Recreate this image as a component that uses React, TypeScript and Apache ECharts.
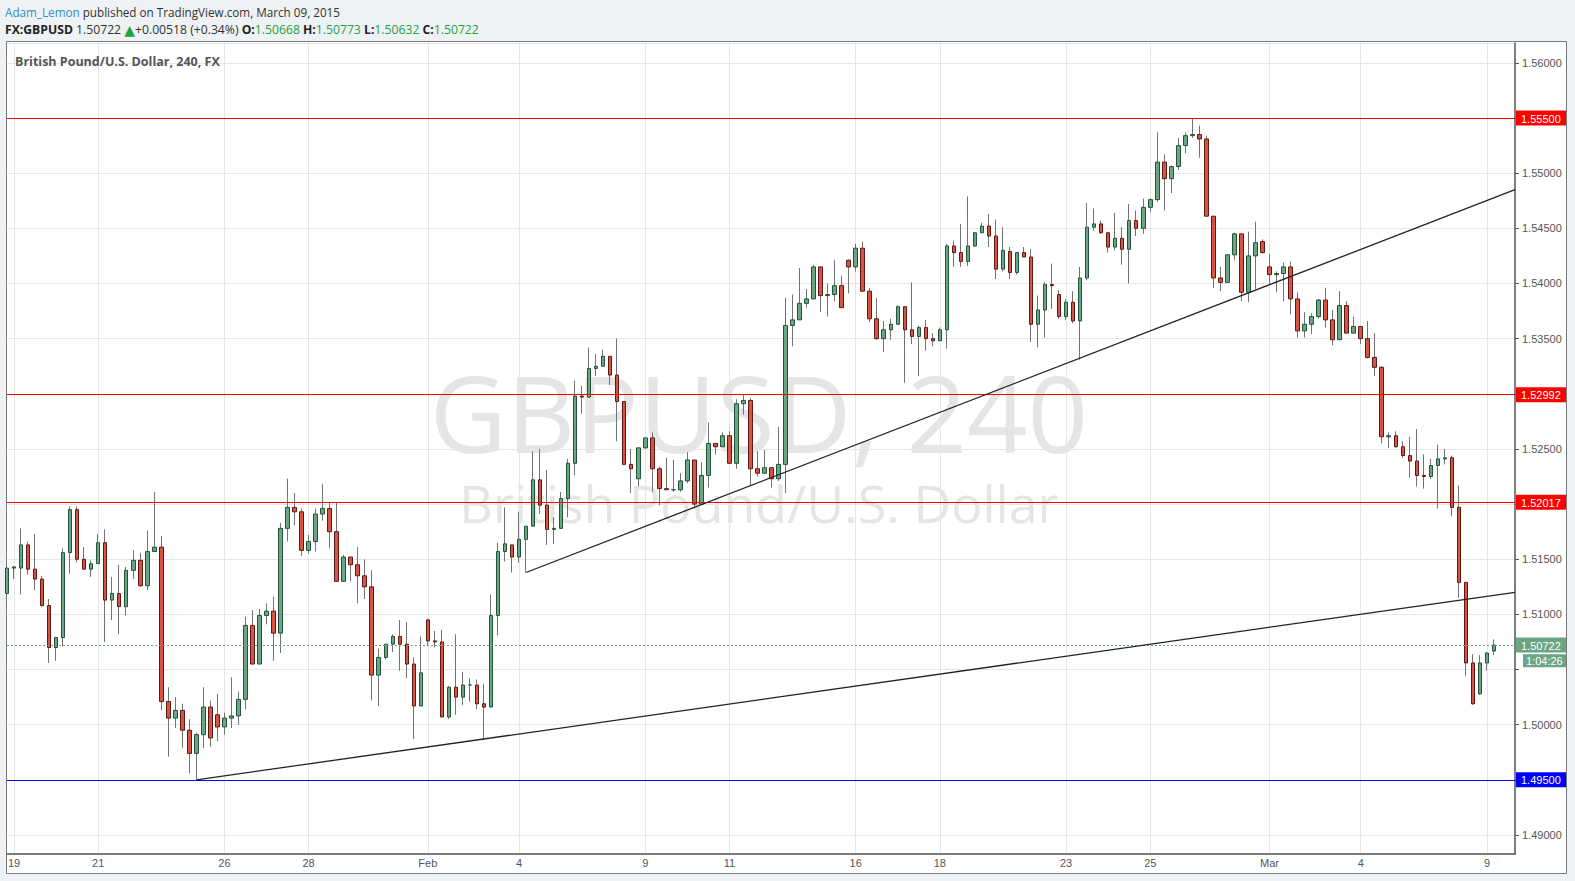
import React, { useEffect, useRef } from 'react';
import * as echarts from 'echarts';

// ---- sessions / categories (FX 4h candles, session starts 22:00 previous day) ----
const sessionDays = [
  '2015-01-19', '2015-01-20', '2015-01-21', '2015-01-22', '2015-01-23',
  '2015-01-26', '2015-01-27', '2015-01-28', '2015-01-29', '2015-01-30',
  '2015-02-02', '2015-02-03', '2015-02-04', '2015-02-05', '2015-02-06',
  '2015-02-09', '2015-02-10', '2015-02-11', '2015-02-12', '2015-02-13',
  '2015-02-16', '2015-02-17', '2015-02-18', '2015-02-19', '2015-02-20',
  '2015-02-23', '2015-02-24', '2015-02-25', '2015-02-26', '2015-02-27',
  '2015-03-02', '2015-03-03', '2015-03-04', '2015-03-05', '2015-03-06',
  '2015-03-09',
];
const slotHours = ['22:00', '02:00', '06:00', '10:00', '14:00', '18:00'];

// tick labels: [candle index, label]
const axisDayLabels: [number, string][] = [
  [1, '19'], [13, '21'], [31, '26'], [43, '28'], [60, 'Feb'], [73, '4'],
  [91, '9'], [103, '11'], [121, '16'], [133, '18'], [151, '23'], [163, '25'],
  [180, 'Mar'], [193, '4'], [211, '9'],
];

// ---- OHLC per week: [open, high, low, close] ----
const week1 = [
  [1.5119, 1.5147, 1.5107, 1.5142], [1.5142, 1.5144, 1.5132, 1.5143],
  [1.5142, 1.5178, 1.5118, 1.5163], [1.5163, 1.5166, 1.5136, 1.5141],
  [1.5141, 1.5173, 1.5122, 1.5132], [1.5132, 1.5135, 1.5107, 1.5108],
  [1.5108, 1.5114, 1.5056, 1.5070], [1.5070, 1.5079, 1.5058, 1.5079],
  [1.5079, 1.5160, 1.5071, 1.5156], [1.5156, 1.5198, 1.5137, 1.5195],
  [1.5195, 1.5198, 1.5147, 1.5150], [1.5150, 1.5161, 1.5141, 1.5141],
  [1.5141, 1.5149, 1.5134, 1.5146], [1.5146, 1.5173, 1.5146, 1.5165],
  [1.5165, 1.5177, 1.5075, 1.5113], [1.5113, 1.5134, 1.5095, 1.5119],
  [1.5119, 1.5145, 1.5082, 1.5107], [1.5107, 1.5143, 1.5099, 1.5140],
  [1.5140, 1.5158, 1.5132, 1.5149], [1.5149, 1.5156, 1.5125, 1.5126],
  [1.5126, 1.5176, 1.5122, 1.5157], [1.5157, 1.5211, 1.5157, 1.5161],
  [1.5161, 1.5171, 1.5013, 1.5021], [1.5021, 1.5034, 1.4971, 1.5006],
  [1.5006, 1.5025, 1.4997, 1.5013], [1.5013, 1.5019, 1.4979, 1.4995],
  [1.4995, 1.5005, 1.4956, 1.4974], [1.4974, 1.4993, 1.4949, 1.4991],
  [1.4991, 1.5034, 1.4979, 1.5016], [1.5016, 1.5022, 1.4980, 1.4988],
];
const week2 = [
  [1.5009, 1.5028, 1.4985, 1.4998], [1.4998, 1.5011, 1.4991, 1.5006],
  [1.5006, 1.5043, 1.4997, 1.5008], [1.5008, 1.5030, 1.5000, 1.5023],
  [1.5023, 1.5098, 1.5014, 1.5090], [1.5090, 1.5104, 1.5055, 1.5055],
  [1.5055, 1.5105, 1.5055, 1.5099], [1.5099, 1.5110, 1.5091, 1.5103],
  [1.5103, 1.5116, 1.5058, 1.5083], [1.5083, 1.5183, 1.5065, 1.5178],
  [1.5178, 1.5223, 1.5166, 1.5197], [1.5197, 1.5210, 1.5181, 1.5193],
  [1.5193, 1.5196, 1.5153, 1.5158], [1.5158, 1.5172, 1.5155, 1.5166],
  [1.5166, 1.5196, 1.5157, 1.5191], [1.5191, 1.5218, 1.5185, 1.5196],
  [1.5196, 1.5201, 1.5160, 1.5175], [1.5175, 1.5201, 1.5130, 1.5130],
  [1.5130, 1.5154, 1.5130, 1.5152], [1.5152, 1.5152, 1.5130, 1.5145],
  [1.5145, 1.5161, 1.5110, 1.5135], [1.5135, 1.5150, 1.5114, 1.5125],
  [1.5125, 1.5140, 1.5022, 1.5045], [1.5045, 1.5069, 1.5017, 1.5061],
  [1.5061, 1.5073, 1.5059, 1.5073], [1.5073, 1.5082, 1.5066, 1.5080],
  [1.5080, 1.5095, 1.5049, 1.5073], [1.5073, 1.5093, 1.5042, 1.5055],
  [1.5055, 1.5061, 1.4987, 1.5017], [1.5017, 1.5080, 1.5017, 1.5047],
];
const week3 = [
  [1.5095, 1.5096, 1.5071, 1.5076], [1.5076, 1.5085, 1.5070, 1.5075],
  [1.5075, 1.5086, 1.5007, 1.5007], [1.5007, 1.5035, 1.5005, 1.5034],
  [1.5034, 1.5082, 1.5009, 1.5025], [1.5025, 1.5048, 1.5018, 1.5036],
  [1.5036, 1.5042, 1.5021, 1.5036], [1.5036, 1.5041, 1.5014, 1.5019],
  [1.5019, 1.5037, 1.4986, 1.5016], [1.5016, 1.5118, 1.5016, 1.5099],
  [1.5099, 1.5165, 1.5081, 1.5157], [1.5157, 1.5197, 1.5148, 1.5164],
  [1.5163, 1.5163, 1.5138, 1.5152], [1.5152, 1.5193, 1.5147, 1.5168],
  [1.5168, 1.5180, 1.5138, 1.5180], [1.5180, 1.5248, 1.5180, 1.5222],
  [1.5222, 1.5250, 1.5191, 1.5199], [1.5199, 1.5231, 1.5163, 1.5177],
  [1.5177, 1.5188, 1.5164, 1.5178], [1.5178, 1.5211, 1.5178, 1.5205],
  [1.5205, 1.5241, 1.5188, 1.5237], [1.5237, 1.5312, 1.5226, 1.5298],
  [1.5298, 1.5307, 1.5282, 1.5297], [1.5297, 1.5342, 1.5297, 1.5323],
  [1.5323, 1.5336, 1.5316, 1.5325], [1.5325, 1.5340, 1.5325, 1.5334],
  [1.5334, 1.5334, 1.5308, 1.5317], [1.5317, 1.5350, 1.5257, 1.5293],
  [1.5293, 1.5293, 1.5236, 1.5236], [1.5236, 1.5250, 1.5210, 1.5232],
];
const week4 = [
  [1.5223, 1.5251, 1.5216, 1.5251], [1.5251, 1.5260, 1.5250, 1.5260],
  [1.5260, 1.5265, 1.5211, 1.5232], [1.5232, 1.5234, 1.5199, 1.5214],
  [1.5214, 1.5242, 1.5213, 1.5213], [1.5213, 1.5240, 1.5211, 1.5213],
  [1.5213, 1.5228, 1.5211, 1.5221], [1.5221, 1.5247, 1.5219, 1.5240],
  [1.5240, 1.5240, 1.5196, 1.5200], [1.5200, 1.5238, 1.5199, 1.5226],
  [1.5226, 1.5274, 1.5215, 1.5255], [1.5255, 1.5255, 1.5245, 1.5252],
  [1.5252, 1.5265, 1.5252, 1.5262], [1.5262, 1.5266, 1.5237, 1.5237],
  [1.5237, 1.5295, 1.5232, 1.5291], [1.5291, 1.5299, 1.5281, 1.5294],
  [1.5294, 1.5296, 1.5217, 1.5232], [1.5232, 1.5248, 1.5225, 1.5228],
  [1.5228, 1.5249, 1.5228, 1.5233], [1.5233, 1.5233, 1.5215, 1.5223],
  [1.5223, 1.5270, 1.5221, 1.5236], [1.5236, 1.5387, 1.5210, 1.5362],
  [1.5362, 1.5390, 1.5343, 1.5367], [1.5367, 1.5414, 1.5367, 1.5382],
  [1.5382, 1.5395, 1.5378, 1.5386], [1.5386, 1.5417, 1.5386, 1.5415],
  [1.5415, 1.5415, 1.5374, 1.5389], [1.5389, 1.5400, 1.5370, 1.5390],
  [1.5390, 1.5421, 1.5384, 1.5398], [1.5398, 1.5407, 1.5378, 1.5378],
];
const week5 = [
  [1.5421, 1.5422, 1.5391, 1.5415], [1.5415, 1.5436, 1.5411, 1.5432],
  [1.5432, 1.5438, 1.5393, 1.5393], [1.5393, 1.5396, 1.5365, 1.5368],
  [1.5368, 1.5387, 1.5349, 1.5350], [1.5350, 1.5366, 1.5338, 1.5358],
  [1.5358, 1.5368, 1.5349, 1.5363], [1.5363, 1.5380, 1.5363, 1.5379],
  [1.5379, 1.5379, 1.5310, 1.5358], [1.5358, 1.5401, 1.5345, 1.5352],
  [1.5352, 1.5362, 1.5316, 1.5360], [1.5360, 1.5367, 1.5339, 1.5350],
  [1.5350, 1.5355, 1.5343, 1.5348], [1.5348, 1.5360, 1.5348, 1.5358],
  [1.5358, 1.5436, 1.5341, 1.5434], [1.5434, 1.5439, 1.5415, 1.5428],
  [1.5428, 1.5454, 1.5415, 1.5420], [1.5420, 1.5479, 1.5416, 1.5434],
  [1.5434, 1.5446, 1.5433, 1.5446], [1.5446, 1.5455, 1.5446, 1.5452],
  [1.5452, 1.5463, 1.5433, 1.5443], [1.5443, 1.5458, 1.5404, 1.5413],
  [1.5413, 1.5451, 1.5411, 1.5430], [1.5429, 1.5433, 1.5404, 1.5410],
  [1.5410, 1.5428, 1.5408, 1.5428], [1.5428, 1.5433, 1.5424, 1.5424],
  [1.5424, 1.5431, 1.5347, 1.5363], [1.5363, 1.5389, 1.5342, 1.5376],
  [1.5376, 1.5401, 1.5351, 1.5399], [1.5399, 1.5418, 1.5377, 1.5398],
];
const week6 = [
  [1.5390, 1.5394, 1.5368, 1.5370], [1.5370, 1.5386, 1.5367, 1.5383],
  [1.5383, 1.5393, 1.5364, 1.5366], [1.5366, 1.5415, 1.5331, 1.5405],
  [1.5405, 1.5473, 1.5403, 1.5451], [1.5451, 1.5468, 1.5448, 1.5454],
  [1.5454, 1.5457, 1.5445, 1.5446], [1.5446, 1.5446, 1.5428, 1.5433],
  [1.5433, 1.5464, 1.5430, 1.5441], [1.5441, 1.5451, 1.5417, 1.5431],
  [1.5431, 1.5472, 1.5400, 1.5457], [1.5457, 1.5466, 1.5443, 1.5450],
  [1.5450, 1.5477, 1.5445, 1.5469], [1.5469, 1.5477, 1.5465, 1.5476],
  [1.5476, 1.5537, 1.5474, 1.5510], [1.5510, 1.5517, 1.5466, 1.5495],
  [1.5495, 1.5507, 1.5482, 1.5506], [1.5506, 1.5532, 1.5503, 1.5525],
  [1.5525, 1.5537, 1.5518, 1.5534], [1.5534, 1.5550, 1.5532, 1.5535],
  [1.5535, 1.5543, 1.5514, 1.5531], [1.5531, 1.5534, 1.5461, 1.5461],
  [1.5461, 1.5461, 1.5396, 1.5405], [1.5405, 1.5415, 1.5393, 1.5401],
  [1.5401, 1.5426, 1.5401, 1.5426], [1.5426, 1.5446, 1.5421, 1.5445],
  [1.5445, 1.5445, 1.5384, 1.5392], [1.5392, 1.5447, 1.5383, 1.5425],
  [1.5425, 1.5456, 1.5395, 1.5437], [1.5438, 1.5440, 1.5427, 1.5428],
];
const week7 = [
  [1.5415, 1.5427, 1.5400, 1.5408], [1.5408, 1.5411, 1.5392, 1.5409],
  [1.5409, 1.5419, 1.5384, 1.5415], [1.5415, 1.5420, 1.5372, 1.5386],
  [1.5386, 1.5392, 1.5351, 1.5357], [1.5357, 1.5374, 1.5351, 1.5363],
  [1.5363, 1.5373, 1.5354, 1.5370], [1.5370, 1.5386, 1.5368, 1.5385],
  [1.5385, 1.5396, 1.5360, 1.5367], [1.5367, 1.5376, 1.5344, 1.5349],
  [1.5349, 1.5393, 1.5349, 1.5380], [1.5380, 1.5384, 1.5355, 1.5355],
  [1.5355, 1.5370, 1.5355, 1.5361], [1.5361, 1.5361, 1.5345, 1.5350],
  [1.5350, 1.5366, 1.5332, 1.5333], [1.5333, 1.5355, 1.5316, 1.5324],
  [1.5324, 1.5325, 1.5255, 1.5261], [1.5261, 1.5265, 1.5251, 1.5262],
  [1.5262, 1.5266, 1.5251, 1.5252], [1.5252, 1.5257, 1.5242, 1.5244],
  [1.5244, 1.5261, 1.5224, 1.5239], [1.5239, 1.5268, 1.5216, 1.5226],
  [1.5226, 1.5245, 1.5214, 1.5225], [1.5225, 1.5241, 1.5223, 1.5235],
  [1.5235, 1.5254, 1.5196, 1.5241], [1.5241, 1.5250, 1.5236, 1.5242],
  [1.5242, 1.5244, 1.5189, 1.5197], [1.5197, 1.5217, 1.5115, 1.5129],
  [1.5129, 1.5129, 1.5044, 1.5056], [1.5056, 1.5064, 1.5018, 1.5019],
];
const week8 = [
  [1.5028, 1.5063, 1.5027, 1.5056], [1.5056, 1.5066, 1.5049, 1.5065],
  [1.50668, 1.50773, 1.50632, 1.50722],
];

// ---- drawn levels / tools ----
const resistanceLevels = [1.555, 1.52992, 1.52017];
const supportLevels = [1.495];
const lastPrice = 1.50722;
const countdownText = '1:04:26';
// trend lines: [[startIndex, startPrice], [endIndex, endPrice]]
const trendLines: [number, number][][] = [
  [[27, 1.4950], [215, 1.5120]],
  [[74, 1.5138], [215, 1.5485]],
];
const priceMin = 1.48828;
const priceMax = 1.5618;

const UP_FILL = '#6ba583';
const UP_BORDER = '#225437';
const DOWN_FILL = '#d75442';
const DOWN_BORDER = '#5b1a13';
const WICK = '#737375';
const AXIS_FONT = '"Liberation Sans", Arial, sans-serif';
const UI_FONT = '"Open Sans", "DejaVu Sans", sans-serif';

export default function App() {
  const ref = useRef<HTMLDivElement>(null);

  useEffect(() => {
    if (!ref.current) return;
    const chart = echarts.init(ref.current, undefined, { renderer: 'svg' });

    const categories = sessionDays.flatMap((d) => slotHours.map((h) => `${d} ${h}`));
    const labelAt: Record<number, string> = {};
    axisDayLabels.forEach(([i, t]) => { labelAt[i] = t; });
    const candles = [...week1, ...week2, ...week3, ...week4, ...week5, ...week6, ...week7, ...week8];
    const wickData = candles.map(([o, h, l, c]) => [o, c, l, h]);
    const bodyData = candles.map(([o, h, l, c]) => [o, c, Math.min(o, c), Math.max(o, c)]);
    const hiddenAxisValues = [...resistanceLevels, ...supportLevels, 1.505].map((v) => v.toFixed(5));

    const hLines: any[] = [
      ...resistanceLevels.map((v) => ({ yAxis: v, lineStyle: { color: '#ff0000', width: 1.2, type: 'solid' } })),
      ...supportLevels.map((v) => ({ yAxis: v, lineStyle: { color: '#0000ff', width: 1.2, type: 'solid' } })),
      { yAxis: lastPrice, lineStyle: { color: UP_FILL, width: 1, type: [2, 2] } },
    ];
    const tLines = trendLines.map(([a, b]) => [
      { coord: [categories[a[0]], a[1]], lineStyle: { color: '#222', width: 1.3, type: 'solid' } },
      { coord: [categories[b[0]], b[1]] },
    ]);

    chart.setOption({
      animation: false,
      backgroundColor: '#eff2f5',
      grid: { left: 7, right: 60, top: 43, bottom: 27, containLabel: false },
      xAxis: {
        type: 'category',
        data: categories,
        boundaryGap: false,
        axisLine: { show: true, lineStyle: { color: '#555', width: 1.5 } },
        axisTick: { show: false },
        axisLabel: {
          interval: (i: number) => labelAt[i] !== undefined,
          formatter: (_v: string, i: number) => labelAt[i] ?? '',
          color: '#555', fontSize: 11, fontFamily: AXIS_FONT, margin: 3,
        },
        splitLine: {
          show: true,
          interval: (i: number) => labelAt[i] !== undefined,
          lineStyle: { color: '#e6e6e6', width: 1 },
        },
      },
      yAxis: {
        type: 'value',
        position: 'right',
        min: priceMin,
        max: priceMax,
        splitNumber: 15,
        minInterval: 0.005,
        maxInterval: 0.005,
        axisLine: { show: true, lineStyle: { color: '#555', width: 1.5 } },
        axisTick: { show: true, length: 4, lineStyle: { color: '#555' } },
        axisLabel: {
          showMinLabel: false, showMaxLabel: false,
          formatter: (v: number) => {
            const s = v.toFixed(5);
            return hiddenAxisValues.includes(s) ? '' : s;
          },
          color: '#555', fontSize: 11, fontFamily: AXIS_FONT, margin: 7,
        },
        splitLine: { show: true, lineStyle: { color: '#e6e6e6', width: 1 } },
      },
      series: [
        {
          type: 'candlestick',
          name: 'wicks',
          data: wickData,
          barWidth: 1,
          silent: true,
          z: 2,
          itemStyle: {
            color: WICK, color0: WICK, borderColor: WICK, borderColor0: WICK,
            borderColorDoji: WICK, borderWidth: 1,
          },
        },
        {
          type: 'candlestick',
          name: 'GBPUSD',
          data: bodyData,
          barWidth: 4,
          silent: true,
          z: 3,
          itemStyle: {
            color: UP_FILL, color0: DOWN_FILL, borderColor: UP_BORDER, borderColor0: DOWN_BORDER,
            borderColorDoji: UP_BORDER, borderWidth: 1,
          },
          markLine: {
            silent: true,
            precision: 5,
            symbol: ['none', 'none'],
            label: { show: false },
            emphasis: { disabled: true },
            animation: false,
            data: [...hLines, ...tLines],
          },
        },
      ],
    });

    // right-axis price tags, positioned through the y axis scale
    const tagItems = [
      ...resistanceLevels.map((v) => ({ v, bg: '#ff0000' })),
      { v: lastPrice, bg: UP_FILL },
      ...supportLevels.map((v) => ({ v, bg: '#0000ff' })),
    ];
    const tagEls: any[] = [];
    tagItems.forEach((t) => {
      const y = chart.convertToPixel({ yAxisIndex: 0 }, t.v) as number;
      tagEls.push({ type: 'rect', z: 20, shape: { x: 1516, y: y - 7.5, width: 50, height: 15 }, style: { fill: t.bg } });
      tagEls.push({
        type: 'text', z: 21, x: 1521, y: y + 0.5,
        style: { text: t.v.toFixed(5), fill: '#ffffff', font: `11px ${AXIS_FONT}`, verticalAlign: 'middle', align: 'left' },
      });
    });
    const yLast = chart.convertToPixel({ yAxisIndex: 0 }, lastPrice) as number;
    tagEls.push({ type: 'rect', z: 20, shape: { x: 1523, y: yLast + 9.3, width: 43, height: 13 }, style: { fill: UP_FILL } });
    tagEls.push({
      type: 'text', z: 21, x: 1526, y: yLast + 16,
      style: { text: countdownText, fill: '#ffffff', font: `11px ${AXIS_FONT}`, verticalAlign: 'middle', align: 'left' },
    });

    chart.setOption({
      graphic: [
        { type: 'rect', z: -10, silent: true, shape: { x: 6.5, y: 41.5, width: 1560, height: 832 }, style: { fill: '#ffffff', stroke: '#7a7a7a', lineWidth: 1 } },
        {
          type: 'text', z: -5, silent: true, x: 759, y: 357,
          style: {
            text: '{a|GBPUSD, 240}\n{b|British Pound/U.S. Dollar}',
            align: 'center', verticalAlign: 'top',
            rich: {
              a: { fill: '#e5e5e5', fontSize: 106, fontFamily: UI_FONT, lineHeight: 110, align: 'center' },
              b: { fill: '#e5e5e5', fontSize: 52, fontFamily: UI_FONT, lineHeight: 70, align: 'center' },
            },
          },
        },
        {
          type: 'text', z: 10, silent: true, x: 15, y: 61,
          style: { text: 'British Pound/U.S. Dollar, 240, FX', fill: '#555', font: `bold 12.5px ${UI_FONT}`, align: 'left', verticalAlign: 'middle' },
        },
        {
          type: 'text', z: 10, silent: true, x: 5, y: 12,
          style: {
            text: '{u|Adam_Lemon} {p|published on TradingView.com, March 09, 2015}',
            verticalAlign: 'middle', align: 'left', font: `11.7px ${UI_FONT}`,
            rich: {
              u: { fill: '#2b93cd', fontSize: 11.7, fontFamily: UI_FONT },
              p: { fill: '#333333', fontSize: 11.7, fontFamily: UI_FONT },
            },
          },
        },
        {
          type: 'text', z: 10, silent: true, x: 5, y: 29.5,
          style: {
            text: '{b|FX:GBPUSD} {n|1.50722} {t|▲}{n|+0.00518 (+0.34%)} {b|O:}{g|1.50668} {b|H:}{g|1.50773} {b|L:}{g|1.50632} {b|C:}{g|1.50722}',
            verticalAlign: 'middle', align: 'left', font: `12.2px ${UI_FONT}`,
            rich: {
              b: { fill: '#222222', fontSize: 12.2, fontWeight: 'bold', fontFamily: UI_FONT },
              n: { fill: '#333333', fontSize: 12.2, fontFamily: UI_FONT },
              g: { fill: '#22a33a', fontSize: 12.2, fontFamily: UI_FONT },
              t: { fill: '#22a33a', fontSize: 14, fontFamily: UI_FONT },
            },
          },
        },
        ...tagEls,
      ],
    });

    return () => { chart.dispose(); };
  }, []);

  return (
    <div
      ref={ref}
      style={{ position: 'fixed', left: 0, top: 0, width: 1575, height: 881 }}
    />
  );
}
